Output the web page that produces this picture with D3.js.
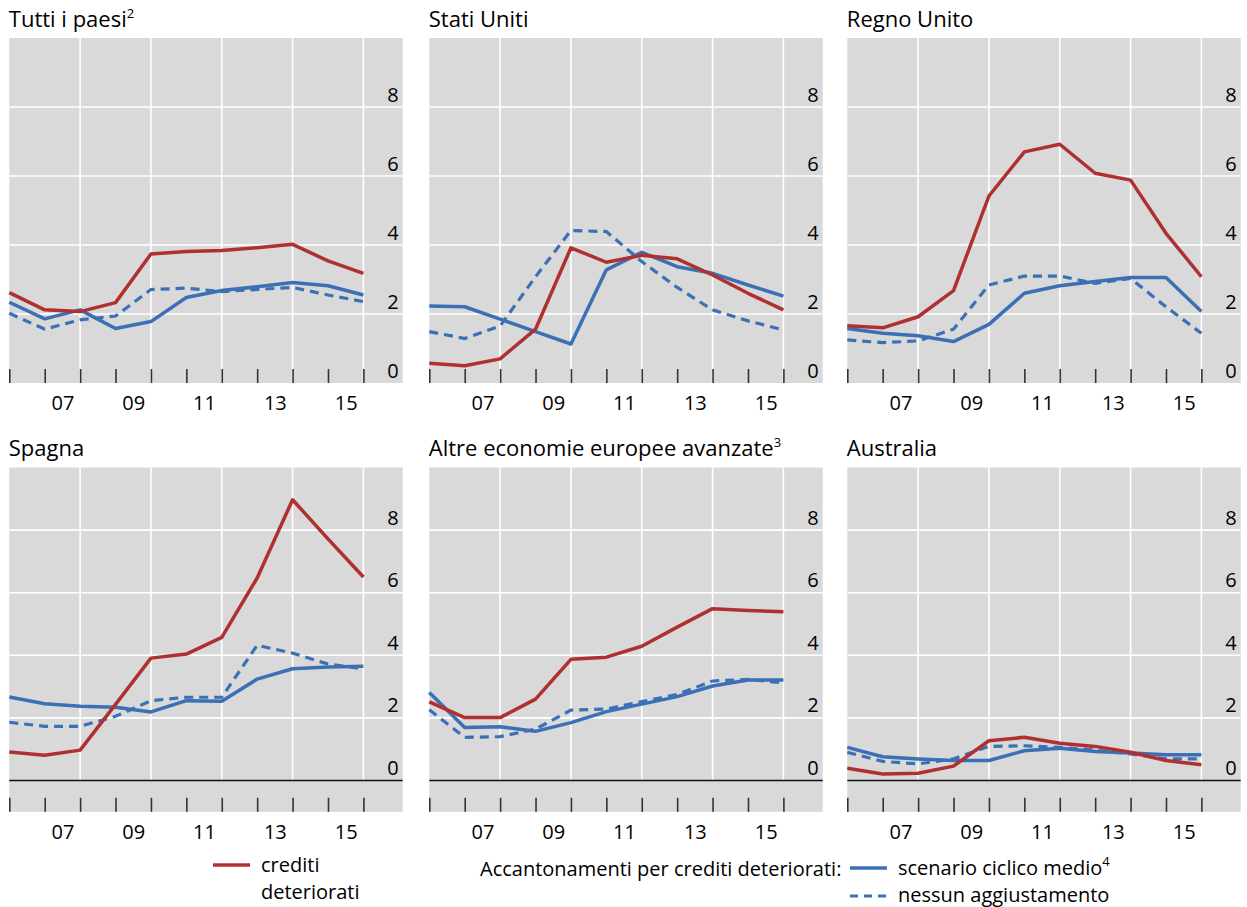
<!DOCTYPE html>
<html>
<head>
<meta charset="utf-8">
<script src="https://cdn.jsdelivr.net/npm/d3@7"></script>
<style>
  body { margin: 0; background: #fff; }
  svg { display: block; }
  text { font-family: "Open Sans", "Noto Sans", sans-serif; fill: #000; }
</style>
</head>
<body>
<svg id="chart" width="1247" height="907"></svg>
<script>
// ---- data (year-end values, per cent) ----
const years = [2005, 2006, 2007, 2008, 2009, 2010, 2011, 2012, 2013, 2014, 2015];
const xTickLabels = ["07", "09", "11", "13", "15"];
const yTickValues = [0, 2, 4, 6, 8];

const panelTitles = ["Tutti i paesi", "Stati Uniti", "Regno Unito", "Spagna", "Altre economie europee avanzate", "Australia"];
const panelNotes  = ["2", "", "", "", "3", ""];

// crediti deteriorati
const nplAll   = [2.62, 2.12, 2.07, 2.33, 3.74, 3.81, 3.84, 3.92, 4.02, 3.54, 3.18];
const nplUS    = [0.57, 0.50, 0.70, 1.56, 3.92, 3.50, 3.70, 3.60, 3.13, 2.60, 2.12];
const nplUK    = [1.66, 1.60, 1.92, 2.68, 5.42, 6.70, 6.92, 6.08, 5.88, 4.34, 3.08];
const nplES    = [0.91, 0.81, 0.97, 2.43, 3.91, 4.04, 4.57, 6.47, 8.97, 7.72, 6.50];
const nplEU    = [2.51, 2.01, 2.01, 2.60, 3.87, 3.94, 4.29, 4.90, 5.49, 5.43, 5.39];
const nplAU    = [0.39, 0.21, 0.23, 0.46, 1.27, 1.38, 1.19, 1.09, 0.90, 0.64, 0.50];

// accantonamenti: scenario ciclico medio
const provAvgAll = [2.34, 1.86, 2.12, 1.58, 1.78, 2.48, 2.68, 2.79, 2.91, 2.82, 2.55];
const provAvgUS  = [2.23, 2.21, 1.85, 1.49, 1.13, 3.28, 3.79, 3.37, 3.18, 2.84, 2.52];
const provAvgUK  = [1.58, 1.44, 1.37, 1.20, 1.70, 2.60, 2.82, 2.94, 3.06, 3.06, 2.07];
const provAvgES  = [2.67, 2.45, 2.37, 2.34, 2.19, 2.55, 2.53, 3.24, 3.57, 3.63, 3.65];
const provAvgEU  = [2.81, 1.69, 1.72, 1.57, 1.85, 2.20, 2.44, 2.68, 3.02, 3.21, 3.21];
const provAvgAU  = [1.06, 0.76, 0.69, 0.64, 0.64, 0.95, 1.03, 0.93, 0.88, 0.82, 0.82];

// accantonamenti: nessun aggiustamento
const provNoneAll = [2.02, 1.56, 1.83, 1.94, 2.71, 2.75, 2.65, 2.71, 2.77, 2.55, 2.36];
const provNoneUS  = [1.49, 1.29, 1.65, 3.08, 4.42, 4.39, 3.52, 2.77, 2.12, 1.80, 1.54];
const provNoneUK  = [1.25, 1.17, 1.22, 1.56, 2.84, 3.10, 3.10, 2.89, 3.03, 2.21, 1.44];
const provNoneES  = [1.86, 1.73, 1.73, 2.05, 2.55, 2.66, 2.66, 4.32, 4.07, 3.72, 3.57];
const provNoneEU  = [2.26, 1.38, 1.40, 1.64, 2.25, 2.28, 2.52, 2.75, 3.18, 3.23, 3.12];
const provNoneAU  = [0.90, 0.61, 0.53, 0.69, 1.09, 1.11, 1.06, 0.97, 0.85, 0.69, 0.69];

const npl      = [nplAll, nplUS, nplUK, nplES, nplEU, nplAU];
const provAvg  = [provAvgAll, provAvgUS, provAvgUK, provAvgES, provAvgEU, provAvgAU];
const provNone = [provNoneAll, provNoneUS, provNoneUK, provNoneES, provNoneEU, provNoneAU];

// ---- styles / layout ----
const RED = "#b03030", BLUE = "#3b6fb6", BG = "#d9d9d9";
const colLeft = [9.3, 429.3, 847.3];
const panelW = 393.4;
const rows = [
  { top: 38,    bottom: 383,   domain: [0, 10],  titleY: 26.5 },
  { top: 467.5, bottom: 811.8, domain: [-1, 10], titleY: 455.7 }
];

const svg = d3.select("#chart");

panelTitles.forEach((title, i) => {
  const row = rows[Math.floor(i / 3)];
  const left = colLeft[i % 3], right = left + panelW;
  const x = d3.scaleLinear().domain([2006, 2017.11]).range([left, right]);
  const y = d3.scaleLinear().domain(row.domain).range([row.bottom, row.top]);
  const g = svg.append("g");

  // title
  const t = g.append("text").attr("x", left - 0.5).attr("y", row.titleY)
    .style("font-size", "22px").text(title);
  if (panelNotes[i]) {
    t.append("tspan").attr("dy", -9).style("font-size", "13px").text(panelNotes[i]);
  }

  // background
  g.append("rect").attr("x", left).attr("y", row.top)
    .attr("width", right - left).attr("height", row.bottom - row.top).attr("fill", BG);

  // horizontal gridlines
  g.selectAll(".hg").data([2, 4, 6, 8]).join("line")
    .attr("x1", left).attr("x2", right)
    .attr("y1", d => y(d)).attr("y2", d => y(d))
    .attr("stroke", "#fff").attr("stroke-width", 1.6);

  // vertical gridlines
  g.selectAll(".vg").data([2008, 2010, 2012, 2014, 2016]).join("line")
    .attr("x1", d => x(d)).attr("x2", d => x(d))
    .attr("y1", y(10)).attr("y2", y(0))
    .attr("stroke", "#fff").attr("stroke-width", 1.6);

  // zero line (bottom row)
  if (row.domain[0] < 0) {
    g.append("line").attr("x1", left).attr("x2", right)
      .attr("y1", y(0)).attr("y2", y(0))
      .attr("stroke", "#111").attr("stroke-width", 1.6);
  }

  // x-axis tick marks (year boundaries)
  const tickAxis = d3.axisBottom(x).tickValues(d3.range(2006, 2017))
    .tickSize(-14).tickFormat("");
  const ta = g.append("g").attr("transform", `translate(0,${row.bottom})`).call(tickAxis);
  ta.select(".domain").remove();
  ta.selectAll(".tick line").attr("stroke", "#333").attr("stroke-width", 1.6);

  // x-axis labels (mid-year)
  const labAxis = d3.axisBottom(x).tickValues([2007.5, 2009.5, 2011.5, 2013.5, 2015.5])
    .tickSize(0).tickPadding(0).tickFormat((d, k) => xTickLabels[k]);
  const la = g.append("g").attr("transform", `translate(0,${row.bottom + 27})`).call(labAxis);
  la.select(".domain").remove();
  la.selectAll("text").attr("dy", 0).style("font-size", "20px")
    .style("font-family", '"Open Sans", sans-serif').attr("fill", "#000");

  // y-axis labels (right side, above gridlines)
  const yAxis = d3.axisLeft(y).tickValues(yTickValues).tickSize(0).tickPadding(0);
  const ya = g.append("g").attr("transform", `translate(${right - 4},0)`).call(yAxis);
  ya.select(".domain").remove();
  ya.selectAll("text").attr("dy", -6).style("font-size", "20px")
    .style("font-family", '"Open Sans", sans-serif').attr("fill", "#000");

  // lines
  const line = d3.line().x((d, k) => x(years[k] + 1)).y(d => y(d));
  g.append("path").datum(provAvg[i]).attr("d", line)
    .attr("fill", "none").attr("stroke", BLUE).attr("stroke-width", 3.5)
    .attr("stroke-linejoin", "round");
  g.append("path").datum(provNone[i]).attr("d", line)
    .attr("fill", "none").attr("stroke", BLUE).attr("stroke-width", 3.2)
    .attr("stroke-dasharray", "9,6");
  g.append("path").datum(npl[i]).attr("d", line)
    .attr("fill", "none").attr("stroke", RED).attr("stroke-width", 3.5)
    .attr("stroke-linejoin", "round");
});

// ---- legend ----
const lg = svg.append("g").style("font-size", "20px");
lg.append("line").attr("x1", 213).attr("x2", 250).attr("y1", 865).attr("y2", 865)
  .attr("stroke", RED).attr("stroke-width", 3.5);
lg.append("text").attr("x", 261).attr("y", 871.5).text("crediti");
lg.append("text").attr("x", 261).attr("y", 899).text("deteriorati");

lg.append("text").attr("x", 480).attr("y", 876).text("Accantonamenti per crediti deteriorati:");
lg.append("line").attr("x1", 850).attr("x2", 887).attr("y1", 868).attr("y2", 868)
  .attr("stroke", BLUE).attr("stroke-width", 3.5);
const s4 = lg.append("text").attr("x", 898).attr("y", 874.5).text("scenario ciclico medio");
s4.append("tspan").attr("dy", -9).style("font-size", "13px").text("4");
lg.append("line").attr("x1", 850).attr("x2", 887).attr("y1", 896).attr("y2", 896)
  .attr("stroke", BLUE).attr("stroke-width", 3.2).attr("stroke-dasharray", "8,6");
lg.append("text").attr("x", 898).attr("y", 902).text("nessun aggiustamento");
</script>
</body>
</html>
